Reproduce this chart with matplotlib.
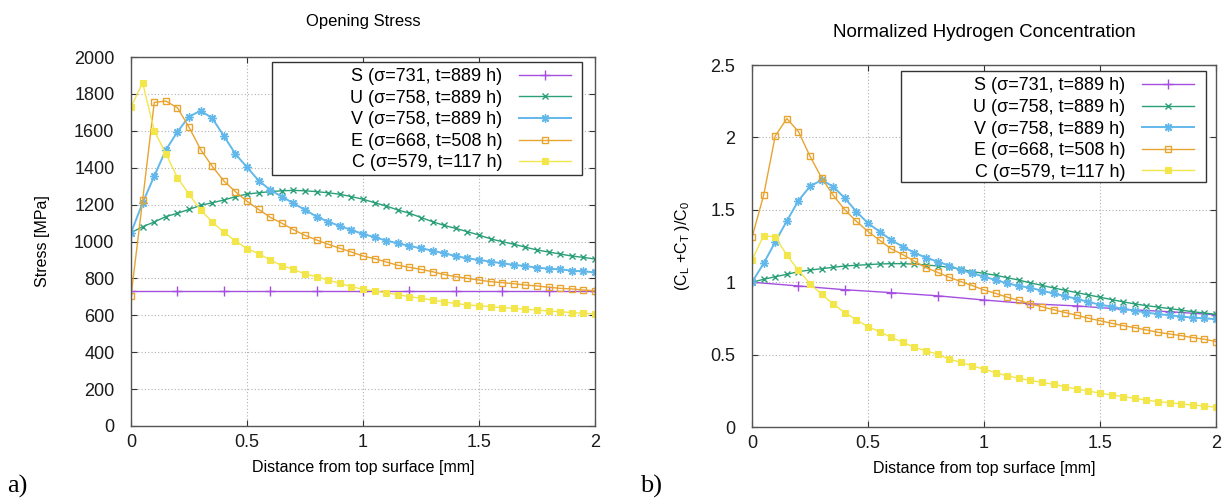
import matplotlib
matplotlib.use("Agg")
import matplotlib.pyplot as plt
from matplotlib.patches import Rectangle
import numpy as np

plt.rcParams['font.family'] = ['Liberation Sans', 'DejaVu Sans']
plt.rcParams['mathtext.default'] = 'regular'

# distances [mm]
x_fine = np.linspace(0, 2, 41)     # 0.05 mm step
x_coarse = np.linspace(0, 2, 11)   # 0.2 mm step (case S)

labels = ["S (σ=731, t=889 h)", "U (σ=758, t=889 h)", "V (σ=758, t=889 h)",
          "E (σ=668, t=508 h)", "C (σ=579, t=117 h)"]

# opening stress [MPa]
stress_S = [731] * 11
stress_U = [1048, 1080, 1106, 1135, 1153, 1174, 1196, 1210, 1225, 1243, 1257,
            1264, 1270, 1275, 1277, 1275, 1270, 1264, 1256, 1243, 1229, 1210,
            1192, 1171, 1153, 1130, 1107, 1087, 1071, 1053, 1035, 1014, 999,
            985, 969, 954, 943, 932, 921, 914, 905]
stress_V = [1048, 1210, 1355, 1496, 1595, 1677, 1709, 1668, 1572, 1474, 1402,
            1330, 1279, 1243, 1207, 1171, 1135, 1107, 1084, 1062, 1041, 1023,
            1005, 990, 976, 963, 950, 936, 921, 909, 900, 891, 882, 873, 867,
            858, 853, 849, 842, 838, 833]
stress_E = [706, 1225, 1754, 1761, 1725, 1619, 1498, 1407, 1328, 1270, 1218,
            1174, 1131, 1099, 1064, 1033, 1008, 985, 963, 943, 921, 907, 889,
            871, 860, 849, 836, 821, 809, 800, 791, 782, 777, 771, 764, 759,
            752, 746, 743, 737, 733]
stress_C = [1730, 1860, 1600, 1476, 1346, 1256, 1171, 1106, 1050, 1003, 961,
            934, 900, 869, 849, 824, 809, 791, 773, 755, 741, 732, 722, 712,
            701, 692, 683, 672, 664, 656, 652, 647, 641, 638, 632, 629, 623,
            620, 614, 611, 607]

# normalized hydrogen concentration (CL+CT)/C0
conc_S = [1.0, 0.974, 0.948, 0.928, 0.906, 0.877, 0.851, 0.836, 0.813, 0.796, 0.775]
conc_U = [1.0, 1.02, 1.038, 1.054, 1.073, 1.084, 1.093, 1.103, 1.112, 1.117,
          1.121, 1.126, 1.128, 1.128, 1.125, 1.119, 1.112, 1.103, 1.089, 1.073,
          1.061, 1.048, 1.031, 1.015, 0.995, 0.978, 0.96, 0.944, 0.928, 0.912,
          0.896, 0.88, 0.864, 0.85, 0.838, 0.828, 0.818, 0.807, 0.796, 0.787,
          0.778]
conc_V = [1.0, 1.13, 1.278, 1.423, 1.563, 1.662, 1.706, 1.66, 1.58, 1.487,
          1.407, 1.349, 1.291, 1.245, 1.203, 1.169, 1.142, 1.114, 1.084, 1.061,
          1.038, 1.015, 0.992, 0.974, 0.962, 0.94, 0.923, 0.903, 0.885, 0.863,
          0.845, 0.831, 0.816, 0.803, 0.79, 0.78, 0.771, 0.763, 0.756, 0.75,
          0.745]
conc_E = [1.31, 1.60, 2.01, 2.13, 2.04, 1.87, 1.72, 1.60, 1.50, 1.42, 1.35,
          1.29, 1.23, 1.19, 1.145, 1.10, 1.068, 1.034, 1.004, 0.976, 0.946,
          0.923, 0.896, 0.875, 0.85, 0.83, 0.81, 0.79, 0.772, 0.751, 0.734,
          0.716, 0.70, 0.686, 0.67, 0.654, 0.642, 0.631, 0.617, 0.606, 0.59]
conc_C = [1.155, 1.32, 1.314, 1.187, 1.082, 0.99, 0.916, 0.849, 0.79, 0.739,
          0.693, 0.658, 0.619, 0.585, 0.55, 0.526, 0.502, 0.468, 0.447, 0.421,
          0.40, 0.375, 0.354, 0.336, 0.322, 0.308, 0.295, 0.278, 0.261, 0.249,
          0.233, 0.221, 0.21, 0.198, 0.186, 0.175, 0.168, 0.159, 0.152, 0.145,
          0.136]

colors = ['#a44fe0', '#2a9f78', '#62b8ea', '#e9a430', '#f2e64a']


def draw(ax, ys, box, anchor):
    sS, sU, sV, sE, sC = ys
    ax.plot(x_coarse, sS, '-', marker='+', color=colors[0], lw=1.0, ms=7, mew=1.0, label=labels[0])
    ax.plot(x_fine, sU, '-', marker='x', color=colors[1], lw=1.0, ms=5, mew=1.0, label=labels[1])
    ax.plot(x_fine, sV, '-', marker=(8, 2, 0), color=colors[2], lw=1.4, ms=6, mew=1.0, label=labels[2])
    ax.plot(x_fine, sE, '-', marker='s', color=colors[3], lw=1.0, ms=5, mew=1.0,
            mfc='none', label=labels[3])
    ax.plot(x_fine, sC, '-', marker='s', color=colors[4], lw=1.0, ms=5, mew=0.8, label=labels[4])
    ax.set_xlim(0, 2)
    ax.set_xticks([0, 0.5, 1, 1.5, 2])
    ax.set_xticklabels(['0', '0.5', '1', '1.5', '2'])
    ax.grid(True, linestyle=(0, (1, 2)), color='#b0b0b0', lw=0.8)
    ax.tick_params(direction='in', top=True, right=True, length=4, labelsize=13,
                   colors='#333333', labelcolor='#1a1a1a')
    ax.tick_params(axis='y', pad=12)
    ax.tick_params(axis='x', pad=6)
    for sp in ax.spines.values():
        sp.set_color('#555555')
        sp.set_linewidth(1.0)
    ax.set_xlabel('Distance from top surface [mm]', fontsize=11.5, labelpad=6)
    # key frame (gnuplot style, wide box)
    x0, y0, x1, y1 = box
    ax.add_patch(Rectangle((x0, y0), x1 - x0, y1 - y0, transform=ax.transAxes,
                           facecolor='white', edgecolor='#333333', lw=1.0,
                           zorder=4, clip_on=False))
    leg = ax.legend(loc='upper right', bbox_to_anchor=anchor, markerfirst=False,
                    fontsize=13, handlelength=2.9, labelspacing=0.25,
                    borderaxespad=0, frameon=False, borderpad=0.35,
                    handletextpad=0.9)
    leg.set_zorder(5)
    return leg


fig = plt.figure(figsize=(12.26, 5), dpi=100)
ax1 = fig.add_axes([0.1069, 0.148, 0.3785, 0.738])
ax2 = fig.add_axes([0.6134, 0.146, 0.3785, 0.724])

draw(ax1, [stress_S, stress_U, stress_V, stress_E, stress_C],
     (0.304, 0.680, 0.972, 0.9865), (0.962, 0.9865))
ax1.set_ylim(0, 2000)
ax1.set_yticks(np.arange(0, 2001, 200))
ax1.set_ylabel('Stress [MPa]', fontsize=11.5, labelpad=17)
ax1.set_title('Opening Stress', fontsize=12, pad=22)

draw(ax2, [conc_S, conc_U, conc_V, conc_E, conc_C],
     (0.321, 0.677, 0.978, 0.983), (0.966, 0.983))
ax2.set_ylim(0, 2.5)
ax2.set_yticks([0, 0.5, 1, 1.5, 2, 2.5])
ax2.set_yticklabels(['0', '0.5', '1', '1.5', '2', '2.5'])
ax2.set_ylabel('(C$_L$ +C$_T$ )/C$_0$', fontsize=11.5, labelpad=13)
ax2.set_title('Normalized Hydrogen Concentration', fontsize=13.5, pad=20)

fig.text(0.006, 0.014, 'a)', family='Liberation Serif', fontsize=19)
fig.text(0.522, 0.014, 'b)', family='Liberation Serif', fontsize=19)

fig.savefig('out.png', dpi=100)
